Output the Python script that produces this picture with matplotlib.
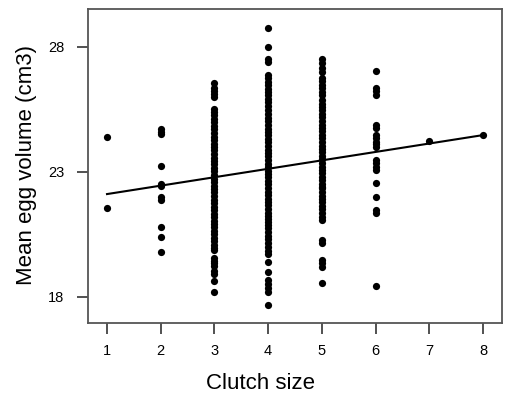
import matplotlib
matplotlib.use("Agg")
import matplotlib.pyplot as plt
import numpy as np

plt.rcParams['font.family'] = ['Liberation Sans', 'DejaVu Sans']

vol_c1 = [24.39, 21.55]
vol_c2 = [24.71, 24.61, 24.51, 23.24, 22.52, 22.44, 21.99, 21.88, 20.80, 20.40, 19.79]
vol_c3 = [26.58, 26.35, 26.25, 26.10, 25.98,
          25.52, 25.40, 25.27, 25.12, 24.98, 24.85, 24.70, 24.57, 24.41, 24.28,
          24.13, 24.00, 23.86, 23.71, 23.58, 23.43, 23.30, 23.15, 23.02, 22.88,
          22.73, 22.60, 22.45, 22.31, 22.18, 22.03, 21.90, 21.76, 21.61, 21.48,
          21.33, 21.20, 21.05, 20.92, 20.78, 20.63, 20.50, 20.36, 20.22, 20.08,
          19.95, 19.88,
          19.56, 19.45, 19.35, 19.25, 19.05, 18.90, 18.65, 18.21]
vol_c4 = [28.75, 27.99, 27.52, 27.38,
          26.88, 26.75, 26.61, 26.47, 26.33, 26.20, 26.06, 25.92, 25.78, 25.63, 25.48,
          25.30, 25.16, 25.02, 24.88, 24.74, 24.60, 24.46, 24.31, 24.18, 24.03,
          23.90, 23.76, 23.62, 23.48, 23.33, 23.20, 23.05, 22.92, 22.78, 22.64,
          22.50, 22.35, 22.22, 22.08, 21.93, 21.80, 21.66, 21.52, 21.38, 21.24,
          21.10, 21.00,
          20.90, 20.75, 20.60, 20.45, 20.30, 20.15, 20.00, 19.85, 19.70,
          19.41, 19.01, 18.68, 18.50, 18.35, 18.20, 17.68]
vol_c5 = [27.50, 27.35, 27.15, 27.00,
          26.76, 26.62, 26.48, 26.35, 26.20, 26.08,
          25.88, 25.74, 25.60, 25.46, 25.32, 25.18, 25.04, 24.90, 24.76, 24.62,
          24.48, 24.34, 24.20, 24.06, 23.92, 23.78, 23.64, 23.50, 23.36, 23.22,
          23.08, 22.94, 22.80, 22.66, 22.52, 22.40, 22.35,
          22.20, 22.06, 21.92, 21.78, 21.64, 21.50, 21.36, 21.22, 21.08,
          20.28, 20.16, 19.48, 19.35, 19.20, 18.57]
vol_c6 = [27.05, 26.36, 26.22, 26.08, 24.88, 24.76, 24.48, 24.35, 24.20, 24.10,
          24.00, 23.48, 23.35, 23.20, 23.08, 22.57, 21.99, 21.48, 21.36, 18.45]
vol_c7 = [24.25]
vol_c8 = [24.49]

clutch_sizes = [1, 2, 3, 4, 5, 6, 7, 8]
volumes = [vol_c1, vol_c2, vol_c3, vol_c4, vol_c5, vol_c6, vol_c7, vol_c8]

# Fitted regression line
fit_intercept = 21.78
fit_slope = 0.337
fit_range = [1, 8]

x_ticks = [1, 2, 3, 4, 5, 6, 7, 8]
y_ticks = [18, 23, 28]

fig = plt.figure(figsize=(5.05, 3.97), dpi=100)
ax = fig.add_axes([88 / 505, 1 - 323 / 397, 414 / 505, 314 / 397])

for cs, vols in zip(clutch_sizes, volumes):
    ax.plot([cs] * len(vols), vols, 'o', color='black', ms=5.2, mec='none')

xf = np.array(fit_range, dtype=float)
ax.plot(xf, fit_intercept + fit_slope * xf, color='black', lw=1.5)

ax.set_xlim(0.646, 8.354)
ax.set_ylim(16.96, 29.52)
ax.set_xticks(x_ticks)
ax.set_yticks(y_ticks)
ax.set_xticklabels([str(t) for t in x_ticks])
ax.set_yticklabels([str(t) for t in y_ticks])

for s in ax.spines.values():
    s.set_color('#555555')
    s.set_linewidth(1.3)

ax.tick_params(axis='both', direction='out', length=8, width=1.1,
               color='#222222', labelsize=10.5)
ax.tick_params(axis='y', pad=9)
ax.tick_params(axis='x', pad=7)

ax.set_xlabel('Clutch size', fontsize=16)
ax.set_ylabel('Mean egg volume (cm3)', fontsize=16)
ax.xaxis.set_label_coords((260 - 88) / 414, (323 - 373) / 314)
ax.yaxis.set_label_coords((37 - 88) / 414, (323 - 165) / 314)

fig.savefig('out.png', dpi=100)
